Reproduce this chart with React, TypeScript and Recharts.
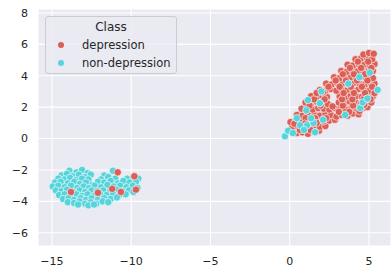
import { ScatterChart, Scatter, XAxis, YAxis, CartesianGrid } from 'recharts';

const xTicks = [-15, -10, -5, 0, 5];
const yTicks = [-6, -4, -2, 0, 2, 4, 6, 8];
const legendTitle = 'Class';
const classNames = ['depression', 'non-depression'];
const classColors = ['#db5f57', '#57d3db'];

// t-SNE coordinates, [x, y]
const depression: [number, number][] = [
  // small cluster
  [-13.8, -3.4], [-12.1, -3.45], [-11.2, -3.2], [-10.85, -2.15], [-10.65, -3.4], [-9.8, -2.4], [-9.7, -3.25],
  // large cluster
  [0.45, 0.35], [0.8, 0.4], [1.15, 0.3], [1.5, 0.45], [1.85, 0.5],
  [0.15, 0.7], [0.5, 0.8], [0.85, 0.7], [1.2, 0.75], [1.55, 0.85], [1.9, 0.75], [2.25, 0.8],
  [0.05, 1.05], [0.4, 1.15], [0.75, 1.05], [1.1, 1.15], [1.45, 1.1], [1.8, 1.2], [2.15, 1.1], [2.5, 1.15], [2.85, 1.2],
  [0.45, 1.5], [0.8, 1.45], [1.2, 1.55], [1.55, 1.5], [1.9, 1.45], [2.25, 1.55], [2.6, 1.5], [2.95, 1.4], [3.3, 1.5], [3.65, 1.45], [4.0, 1.6], [4.35, 1.55],
  [0.75, 1.9], [1.1, 1.95], [1.45, 1.85], [1.8, 1.95], [2.15, 1.9], [2.5, 1.85], [2.85, 1.95], [3.2, 1.9], [3.55, 1.85], [3.9, 1.95], [4.25, 1.9], [4.6, 1.95], [4.9, 2.0],
  [1.0, 2.3], [1.35, 2.25], [1.7, 2.35], [2.05, 2.3], [2.4, 2.2], [3.1, 2.3], [3.45, 2.25], [3.8, 2.35], [4.15, 2.3], [4.5, 2.25], [4.85, 2.35], [5.15, 2.3],
  [1.35, 2.7], [1.7, 2.65], [2.05, 2.75], [2.35, 2.65], [3.15, 2.7], [3.5, 2.65], [3.85, 2.75], [4.2, 2.7], [4.55, 2.65], [4.9, 2.75], [5.25, 2.7],
  [1.9, 3.1], [2.25, 3.05], [2.6, 3.15], [2.95, 3.05], [3.3, 3.15], [3.65, 3.1], [4.0, 3.05], [4.35, 3.15], [4.7, 3.1], [5.05, 3.05], [5.4, 3.15],
  [2.3, 3.5], [2.65, 3.45], [3.0, 3.55], [3.35, 3.5], [3.7, 3.45], [4.05, 3.55], [4.4, 3.5], [4.75, 3.45], [5.1, 3.55], [5.35, 3.5],
  [2.8, 3.9], [3.15, 3.85], [3.5, 3.95], [3.85, 3.9], [4.2, 3.85], [4.6, 3.95], [4.95, 3.9], [5.25, 3.85],
  [3.25, 4.3], [3.6, 4.25], [3.95, 4.35], [4.3, 4.3], [4.65, 4.25], [5.0, 4.35], [5.25, 4.3],
  [3.65, 4.7], [4.0, 4.65], [4.35, 4.75], [4.7, 4.7], [5.05, 4.65], [5.35, 4.75],
  [4.15, 5.05], [4.5, 5.1], [4.85, 5.15], [5.2, 5.05],
  [4.65, 5.35], [5.0, 5.45], [5.3, 5.4],
  [1.0, 1.3], [1.6, 1.3], [2.3, 1.3], [3.1, 1.7], [3.75, 1.7], [4.4, 1.75], [1.25, 2.1], [1.95, 2.1], [2.7, 2.05],
  [3.35, 2.1], [4.0, 2.1], [4.7, 2.15], [1.55, 2.5], [2.2, 2.5], [3.3, 2.5], [3.95, 2.5], [4.65, 2.5], [5.1, 2.5],
  [1.7, 2.9], [2.1, 2.95], [3.4, 2.9], [4.05, 2.9], [4.75, 2.9], [5.35, 2.9], [2.45, 3.3], [3.15, 3.3], [3.85, 3.3],
  [4.55, 3.3], [5.2, 3.3], [2.9, 3.7], [3.55, 3.7], [4.25, 3.7], [4.9, 3.7], [3.35, 4.1], [4.05, 4.1], [4.75, 4.1],
  [3.8, 4.5], [4.5, 4.5], [5.15, 4.5], [4.3, 4.9], [4.95, 4.9], [0.3, 0.95], [0.95, 0.95], [1.7, 1.0], [0.65, 0.55], [1.3, 0.55],
];

const nonDepression: [number, number][] = [
  // small cluster
  [-13.9, -2.05], [-13.45, -2.15], [-13.1, -2.0], [-12.75, -2.2],
  [-14.4, -2.35], [-14.05, -2.25], [-13.7, -2.4], [-13.3, -2.3], [-12.9, -2.45], [-12.55, -2.3], [-11.7, -2.35], [-11.15, -2.05],
  [-14.6, -2.55], [-14.2, -2.6], [-13.85, -2.5], [-13.5, -2.65], [-13.1, -2.55], [-12.7, -2.6], [-11.9, -2.6], [-11.45, -2.45], [-11.0, -2.55], [-10.25, -2.55], [-9.85, -2.45], [-9.55, -2.55],
  [-14.8, -2.8], [-14.45, -2.75], [-14.0, -2.85], [-13.6, -2.75], [-13.25, -2.9], [-12.85, -2.8], [-12.45, -2.95], [-12.1, -2.75], [-11.7, -2.8], [-11.3, -2.7], [-10.85, -2.85], [-10.5, -2.7], [-10.1, -2.8], [-9.7, -2.75],
  [-14.95, -3.05], [-14.6, -3.0], [-14.2, -3.1], [-13.8, -3.0], [-13.4, -3.15], [-13.0, -3.05], [-12.65, -3.15], [-12.3, -3.0], [-11.9, -3.1], [-11.5, -2.95], [-11.1, -3.05], [-10.7, -3.0], [-10.3, -3.1], [-9.9, -3.0], [-9.6, -3.15],
  [-14.75, -3.3], [-14.4, -3.35], [-14.05, -3.25], [-13.65, -3.4], [-13.25, -3.3], [-12.9, -3.4], [-12.5, -3.3], [-12.15, -3.35], [-11.75, -3.3], [-11.35, -3.4], [-10.95, -3.25], [-10.55, -3.35], [-10.15, -3.3], [-9.85, -3.4],
  [-14.55, -3.6], [-14.2, -3.55], [-13.85, -3.65], [-13.45, -3.55], [-13.1, -3.65], [-12.75, -3.55], [-12.35, -3.65], [-11.95, -3.55], [-11.55, -3.6], [-11.15, -3.55], [-10.75, -3.6], [-10.35, -3.55],
  [-14.3, -3.85], [-13.95, -3.8], [-13.6, -3.9], [-13.2, -3.8], [-12.85, -3.9], [-12.5, -3.8], [-12.1, -3.9], [-11.7, -3.8], [-11.3, -3.85], [-10.9, -3.75],
  [-14.0, -4.05], [-13.6, -4.1], [-13.25, -4.0], [-12.9, -4.15], [-12.55, -4.05], [-12.2, -4.15], [-11.8, -4.0], [-11.45, -4.05],
  [-13.35, -4.2], [-12.7, -4.25], [-12.35, -4.2],
  // large cluster
  [-0.3, 0.15], [-0.1, 0.5], [0.45, 1.3], [0.65, 0.85], [1.1, 0.85], [1.6, 0.4], [1.05, 1.8], [1.5, 1.0], [2.1, 1.2],
  [1.9, 2.25], [1.35, 1.3], [1.15, 2.45], [3.5, 1.5], [4.4, 3.9], [5.05, 4.2], [5.55, 3.1], [4.45, 1.95], [3.7, 3.5],
  [4.6, 2.3], [0.2, 0.35], [0.9, 0.55], [2.0, 3.0], [4.9, 2.55],
];

const toRows = (pts: [number, number][]) => pts.map(([x, y]) => ({ x, y }));
const fmt = (v: number) => String(v).replace('-', '\u2212');

const FONT = '"DejaVu Sans", sans-serif';
const TEXT = '#262626';

const dot = (color: string) => (p: any) => (
  <circle cx={p.cx} cy={p.cy} r={3.7} fill={color} stroke="#ffffff" strokeWidth={0.6} />
);

export default function App() {
  const leftCyan = toRows(nonDepression.filter((p) => p[0] < -5));
  const rightCyan = toRows(nonDepression.filter((p) => p[0] >= -5));
  const leftRed = toRows(depression.filter((p) => p[0] < -5));
  const rightRed = toRows(depression.filter((p) => p[0] >= -5));

  return (
    <div style={{ position: 'absolute', left: 0, top: 0, width: 391, height: 272, overflow: 'hidden', background: '#fff', fontFamily: FONT }}>
      <ScatterChart width={391} height={272} margin={{ top: 9, right: 0, bottom: 0, left: 8 }}>
        <CartesianGrid fill="#eaeaf2" stroke="#ffffff" strokeWidth={1.1} />
        <XAxis
          type="number"
          dataKey="x"
          domain={[-15.88, 6.39]}
          ticks={xTicks}
          allowDataOverflow
          axisLine={false}
          tickLine={false}
          tickSize={0}
          tickMargin={11}
          height={26}
          tickFormatter={fmt}
          tick={{ fill: TEXT, fontSize: 11, fontFamily: FONT }}
        />
        <YAxis
          type="number"
          dataKey="y"
          domain={[-6.84, 8.25]}
          ticks={yTicks}
          allowDataOverflow
          axisLine={false}
          tickLine={false}
          tickSize={0}
          tickMargin={10}
          width={30}
          tickFormatter={fmt}
          tick={{ fill: TEXT, fontSize: 11, fontFamily: FONT }}
        />
        <Scatter data={leftCyan} shape={dot(classColors[1])} isAnimationActive={false} />
        <Scatter data={rightRed} shape={dot(classColors[0])} isAnimationActive={false} />
        <Scatter data={leftRed} shape={dot(classColors[0])} isAnimationActive={false} />
        <Scatter data={rightCyan} shape={dot(classColors[1])} isAnimationActive={false} />
      </ScatterChart>
      <div
        style={{
          position: 'absolute',
          left: 45,
          top: 16,
          width: 132,
          height: 58,
          boxSizing: 'border-box',
          background: 'rgba(234,234,242,0.8)',
          border: '1px solid #cccccc',
          borderRadius: 3,
          color: TEXT,
        }}
      >
        <div style={{ position: 'absolute', left: 0, right: 0, top: 3, textAlign: 'center', fontSize: 12 }}>{legendTitle}</div>
        {classNames.map((name, i) => (
          <div key={name} style={{ position: 'absolute', left: 0, top: 21 + i * 18, height: 14, display: 'flex', alignItems: 'center', fontSize: 11.5 }}>
            <span style={{ position: 'absolute', left: 12, width: 6, height: 6, borderRadius: 3, background: classColors[i] }} />
            <span style={{ position: 'absolute', left: 36, whiteSpace: 'nowrap' }}>{name}</span>
          </div>
        ))}
      </div>
    </div>
  );
}
